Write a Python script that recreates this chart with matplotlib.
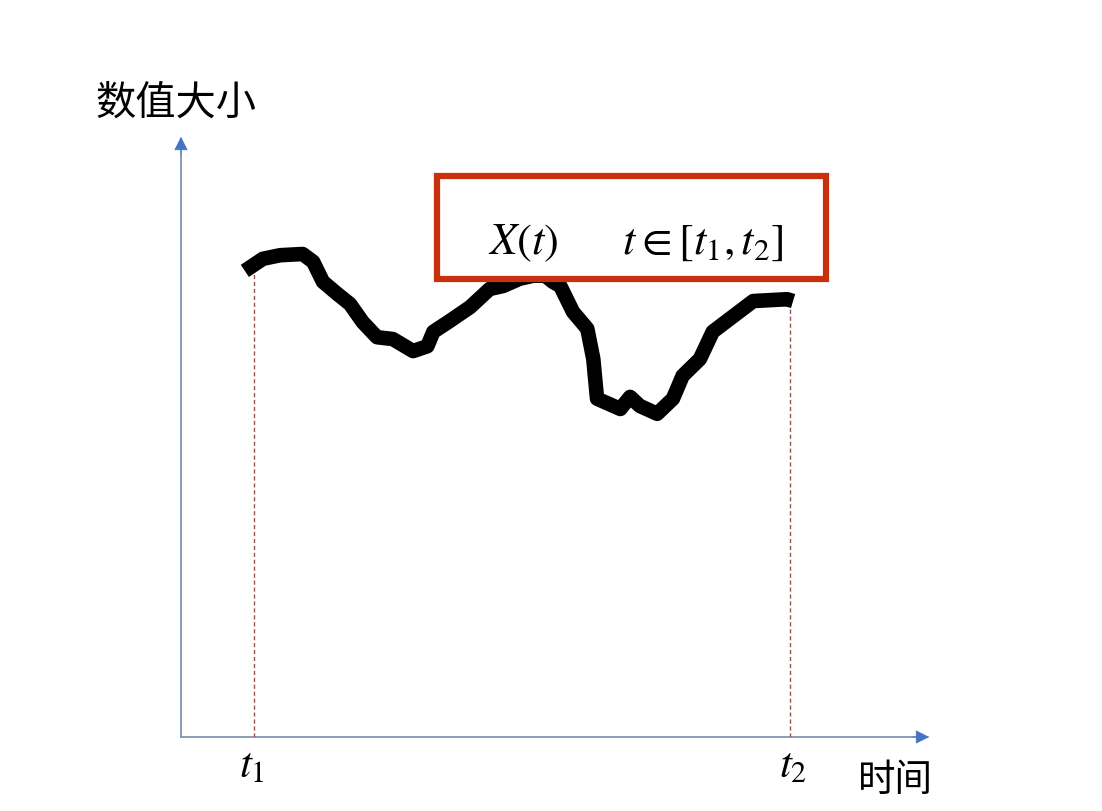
import matplotlib.pyplot as plt
from matplotlib.patches import Rectangle

plt.rcParams['font.family'] = ['Noto Sans CJK SC', 'DejaVu Sans']
plt.rcParams['mathtext.fontset'] = 'stix'

# curve (time, value), axes run 0..10 on both
t_vals = [0.85, 1.09, 1.32, 1.62, 1.76, 1.89, 2.08, 2.25, 2.42, 2.61, 2.82, 3.09,
          3.28, 3.36, 3.58, 3.85, 4.11, 4.29, 4.51, 4.69, 4.85, 4.95, 5.05, 5.22,
          5.41, 5.49, 5.54, 5.85, 5.98, 6.11, 6.34, 6.55, 6.68, 6.91, 7.08, 7.27,
          7.62, 8.07, 8.15]
x_vals = [7.73, 7.93, 7.99, 8.01, 7.88, 7.55, 7.35, 7.18, 6.88, 6.63, 6.60, 6.40,
          6.48, 6.72, 6.90, 7.13, 7.43, 7.48, 7.60, 7.65, 7.65, 7.55, 7.48, 7.05,
          6.77, 6.27, 5.61, 5.44, 5.64, 5.49, 5.36, 5.61, 5.99, 6.27, 6.72, 6.90,
          7.23, 7.26, 7.23]

t1, t2 = 0.97, 8.11
t1_val, t2_val = 7.75, 7.22

fig = plt.figure(figsize=(11.02, 8.12), dpi=100)
ax = fig.add_axes([181 / 1102, 74 / 812, 751 / 1102, 603 / 812])
ax.set_xlim(0, 10)
ax.set_ylim(0, 10)
ax.axis('off')

axis_col = '#8096b4'
head_col = '#4472c4'
ax.plot([0, 9.85], [0, 0], color=axis_col, lw=1.3, clip_on=False, zorder=1)
ax.plot([0, 0], [0, 9.8], color=axis_col, lw=1.3, clip_on=False, zorder=1)
ax.annotate('', xy=(10, 0), xytext=(9.7, 0),
            arrowprops=dict(arrowstyle='-|>', color=head_col, lw=0.5, mutation_scale=22),
            annotation_clip=False)
ax.annotate('', xy=(0, 10), xytext=(0, 9.6),
            arrowprops=dict(arrowstyle='-|>', color=head_col, lw=0.5, mutation_scale=22),
            annotation_clip=False)

# guide lines at t1 and t2
ax.plot([t1, t1], [0, t1_val], color='#9a5552', lw=1, ls=(0, (3, 2)), zorder=2)
ax.plot([t2, t2], [0, t2_val], color='#9a5552', lw=1, ls=(0, (3, 2)), zorder=2)

ax.plot(t_vals, x_vals, color='black', lw=10.5, solid_capstyle='butt',
        solid_joinstyle='round', zorder=3)

box = Rectangle((3.41, 7.60), 5.18, 1.70, facecolor='white', edgecolor='#c9300e',
                lw=4.5, zorder=4, clip_on=False)
ax.add_patch(box)
ax.text(6.06, 8.24, r'$X(t)\qquad t\in[t_1,t_2]$', fontsize=32,
        ha='center', va='center', zorder=5)

ax.text(-0.07, 10.53, '数值大小', fontsize=29, ha='center', va='center',
        fontweight='light', clip_on=False)
ax.text(9.52, -0.70, '时间', fontsize=27, ha='center', va='center',
        fontweight='light', clip_on=False)
ax.text(0.95, -0.45, r'$t_1$', fontsize=31, ha='center', va='center', clip_on=False)
ax.text(8.15, -0.45, r'$t_2$', fontsize=31, ha='center', va='center', clip_on=False)

fig.savefig('out.png', dpi=100)
